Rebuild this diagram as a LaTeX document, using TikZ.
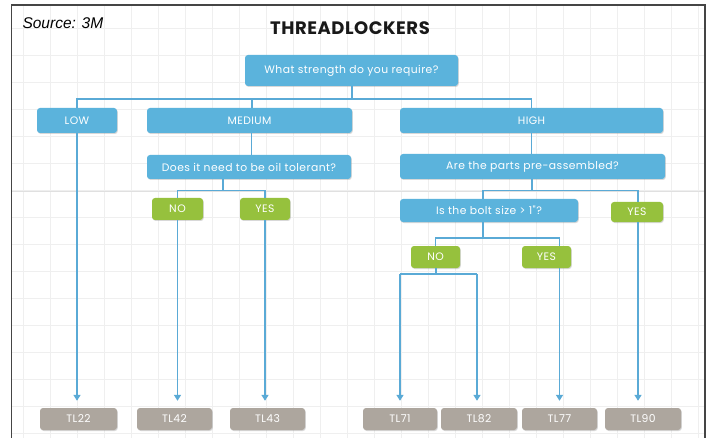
\documentclass[tikz,border=0pt]{standalone}
\usepackage{fontspec}
\setmainfont{Poppins}
\newfontfamily\boxfont[LetterSpace=4]{Poppins}
\newfontfamily\titlefont[LetterSpace=3]{Poppins}
\newfontfamily\srcfont{Liberation Sans}
\usetikzlibrary{arrows.meta,shadows}
\definecolor{cblue}{HTML}{5BB3DC}
\definecolor{cline}{HTML}{5AAAD6}
\definecolor{cgreen}{HTML}{96C13D}
\definecolor{cgray}{HTML}{ADA69E}
\definecolor{cframe}{HTML}{454545}
\definecolor{cgrid}{HTML}{EFEFEF}
\begin{document}
\begin{tikzpicture}[x=1pt,y=-1pt,
  box/.style={rounded corners=3pt,text=white,inner sep=0pt,
    font=\boxfont\fontsize{10.8}{11}\selectfont,
    drop shadow={shadow xshift=0.8pt,shadow yshift=-1pt,opacity=0.3}},
  bluebox/.style={box,fill=cblue},
  greenbox/.style={box,fill=cgreen},
  graybox/.style={box,fill=cgray,minimum height=22pt},
  conn/.style={draw=cline,line width=1.6pt},
  arr/.style={conn,-{Triangle[width=7pt,length=6pt]},shorten >=7pt}]
\useasboundingbox (0,0) rectangle (711,438);
\fill[white] (0,0) rectangle (711,438);
% faint grid
\foreach \gx in {23,50,...,704} \draw[cgrid,line width=0.5pt] (\gx,6) -- (\gx,438);
\foreach \gy in {28,55,...,438} \draw[cgrid,line width=0.5pt] (12,\gy) -- (704,\gy);
\draw[black!12,line width=0.5pt] (12,191.5) -- (704,191.5);
% frame
\draw[cframe,line width=1.6pt] (11.5,440) -- (11.5,5) -- (705,5) -- (705,440);
% titles
\node[font=\srcfont\itshape\fontsize{15.5}{16}\selectfont,anchor=west] (src) at (19,23) {Source: 3M};
\node[font=\titlefont\bfseries\fontsize{18}{19}\selectfont,text=black!90] (title) at (350,28) {THREADLOCKERS};
% nodes
\node[bluebox,minimum width=213pt,minimum height=31pt] (root) at (351.5,70.5) {What strength do you require?};
\node[bluebox,minimum width=80pt,minimum height=25pt] (low) at (77,120.5) {LOW};
\node[bluebox,minimum width=205pt,minimum height=25pt] (medium) at (249.5,120.5) {MEDIUM};
\node[bluebox,minimum width=263pt,minimum height=25pt] (high) at (531.5,120.5) {HIGH};
\node[bluebox,minimum width=204pt,minimum height=24pt] (oil) at (249,167) {Does it need to be oil tolerant?};
\node[greenbox,minimum width=51pt,minimum height=22pt] (no1) at (177.5,209) {NO};
\node[greenbox,minimum width=50pt,minimum height=22pt] (yes1) at (265,209) {YES};
\node[bluebox,minimum width=265pt,minimum height=25pt] (pre) at (532.5,166.5) {Are the parts pre-assembled?};
\node[bluebox,minimum width=178pt,minimum height=23pt] (bolt) at (489,210.5) {Is the bolt size > 1"?};
\node[greenbox,minimum width=52pt,minimum height=20pt] (yes3) at (637,212) {YES};
\node[greenbox,minimum width=49pt,minimum height=22pt] (no2) at (435.5,257) {NO};
\node[greenbox,minimum width=49pt,minimum height=22pt] (yes2) at (546.5,257) {YES};
\node[graybox,minimum width=77pt] (tl22) at (78.5,419) {TL22};
\node[graybox,minimum width=75pt] (tl42) at (174.5,419) {TL42};
\node[graybox,minimum width=75pt] (tl43) at (267.5,419) {TL43};
\node[graybox,minimum width=74pt] (tl71) at (400,419) {TL71};
\node[graybox,minimum width=76pt] (tl82) at (479,419) {TL82};
\node[graybox,minimum width=75pt] (tl77) at (559.5,419) {TL77};
\node[graybox,minimum width=76pt] (tl90) at (643,419) {TL90};
% junction coordinates
\coordinate (j0) at (352,99);
\coordinate (j1) at (223,190.7);
\coordinate (j2) at (532,190.7);
\coordinate (j3) at (483,238);
\coordinate (j4) at (436,274);
% connectors
\draw[conn] ([xshift=0.5pt]root.south) -- (j0);
\draw[conn] (low.north) -- (low.north |- j0) -- (high.north |- j0) -- (high.north);
\draw[conn] ([xshift=2.2pt]medium.north) -- ([xshift=2.2pt]medium.north |- j0);
\draw[arr] (low.south) -- (low.south |- tl22.north);
\draw[conn] ([xshift=2pt]medium.south) -- ([xshift=2pt]medium.south |- oil.north);
\draw[conn] (oil.south -| j1) -- (j1);
\draw[conn] (no1.north) -- (no1.north |- j1) -- (yes1.north |- j1) -- (yes1.north);
\draw[arr] (no1.south) -- (no1.south |- tl42.north);
\draw[arr] (yes1.south) -- (yes1.south |- tl43.north);
\draw[conn] (high.south) -- (high.south |- pre.north);
\draw[conn] (pre.south -| j2) -- (j2);
\draw[conn] ([xshift=-6pt]bolt.north) -- ([xshift=-6pt]bolt.north |- j2) -- ([xshift=1pt]yes3.north |- j2) -- ([xshift=1pt]yes3.north);
\draw[arr] ([xshift=1pt]yes3.south) -- ([xshift=1pt]yes3.south |- tl90.north);
\draw[conn] (bolt.south -| j3) -- (j3);
\draw[conn] (no2.north) -- (no2.north |- j3) -- ([xshift=13pt]yes2.north |- j3) -- ([xshift=13pt]yes2.north);
\draw[arr] ([xshift=13pt]yes2.south) -- ([xshift=13pt]yes2.south |- tl77.north);
\draw[conn] (no2.south -| j4) -- (j4);
\draw[conn] (j4) -- (j4 -| tl71.north) -- (tl71.north |- j4);
\draw[arr] (j4 -| tl71.north) -- (tl71.north);
\draw[conn] (j4) -- ([xshift=-2pt]j4 -| tl82.north);
\draw[arr] ([xshift=-2pt]j4 -| tl82.north) -- ([xshift=-2pt]tl82.north);
\end{tikzpicture}
\end{document}
